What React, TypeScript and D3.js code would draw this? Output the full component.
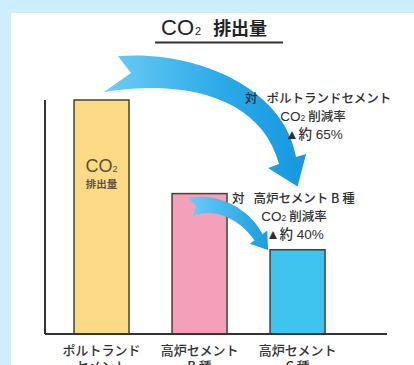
import React from "react";
import * as d3 from "d3";

const categories = ["ポルトランドセメント", "高炉セメントB種", "高炉セメントC種"];
const labelLine1 = ["ポルトランド", "高炉セメント", "高炉セメント"];
const labelLine2 = ["セメント", "B 種", "C 種"];
const values = [100, 60, 36];
const barColors = ["#fddb86", "#f5a0ba", "#3fc3ef"];
const note1Head = ["対", "ポルトランドセメント"];
const note2Head = ["対", "高炉セメント B 種"];
const noteRate = "削減率";
const reductions = ["▲約 65%", "▲約 40%"];

const W = 414;
const H = 365;
const FONT = "'Noto Sans CJK JP', 'Noto Sans', sans-serif";
const LATIN = "'Liberation Sans', 'Noto Sans CJK JP', sans-serif";

type P = [number, number];
const add = (a: P, dx: number, dy: number): P => [a[0] + dx, a[1] + dy];

function arrowPath(
  o0: P, o1: P, o2: P, o3: P,
  rb: P, tip: P, lb: P,
  i3: P, i2: P, i1: P, i0: P, notch: P
) {
  const p = d3.path();
  p.moveTo(o0[0], o0[1]);
  p.bezierCurveTo(o1[0], o1[1], o2[0], o2[1], o3[0], o3[1]);
  p.lineTo(rb[0], rb[1]);
  p.lineTo(tip[0], tip[1]);
  p.lineTo(lb[0], lb[1]);
  p.lineTo(i3[0], i3[1]);
  p.bezierCurveTo(i2[0], i2[1], i1[0], i1[1], i0[0], i0[1]);
  p.lineTo(notch[0], notch[1]);
  p.closePath();
  return p.toString();
}

function Note({ xs, x1, y0, head, pct }: { xs: number; x1: number; y0: number; head: string[]; pct: string }) {
  const lh = 17.5;
  return (
    <g fill="#2f2f2f" fontSize={12.5} fontWeight={500}>
      <text x={xs} y={y0} fontFamily={FONT}>
        {head[0]}
        <tspan dx={9}>{head[1]}</tspan>
      </text>
      <text x={x1} y={y0 + lh} textAnchor="middle">
        <tspan fontFamily={LATIN} fontSize={13.5} fill="#2a2a2a">CO</tspan>
        <tspan fontFamily={LATIN} fontSize={8.5}>2</tspan>
        <tspan fontFamily={FONT} dx={3}>{noteRate}</tspan>
      </text>
      <text x={x1 + 1} y={y0 + lh * 2 + 1} textAnchor="middle" fontFamily={LATIN} fontSize={13.5}>
        {pct}
      </text>
    </g>
  );
}

export default function App() {
  const axisLeft = 45;
  const axisRight = 387;
  const baseY = 334;
  const y = d3.scaleLinear().domain([0, 100]).range([baseY, 100]);
  const x = d3
    .scaleBand<string>()
    .domain(categories)
    .range([axisLeft, axisRight])
    .paddingInner(0.439)
    .paddingOuter(0.464)
    .align(0.319);
  const bw = x.bandwidth();

  const A: P = [x(categories[0])! + bw, y(values[0])];
  const T: P = [x(categories[2])! + bw / 2, y(values[1]) - 7];
  const big = arrowPath(
    add(A, -11, -44), add(A, 71, -50), add(T, -12.5, -96.6), add(T, -1.5, -29.6),
    add(T, 8.5, -32.6), T, add(T, -29.5, -18.6),
    add(T, -18.5, -22.6), add(T, -35.5, -86.6), add(A, 61, -22), add(A, -25, -8), add(A, 2, -27)
  );
  const B1: P = [x(categories[1])! + bw / 2, y(values[1])];
  const T2: P = [x(categories[2])!, y(values[2])];
  const small = arrowPath(
    add(B1, -11.5, 4.4), add(B1, 20.5, -1.6), add(T2, -20, -39.8), add(T2, -7.6, -15.6),
    add(T2, -2.8, -19.2), add(T2, -2, 0.2), add(T2, -20.4, -6),
    add(T2, -15.6, -9.6), add(T2, -30, -29.8), add(B1, 15.5, 13.4), add(B1, -6.5, 22.4), add(B1, -3.5, 12.4)
  );

  const textColor = "#333";

  return (
    <svg
      width={W}
      height={H}
      style={{ position: "absolute", left: 0, top: 0 }}
      fontFamily={FONT}
    >
      <defs>
        <linearGradient id="gBig" x1="0" y1="0" x2="1" y2="0">
          <stop offset="0" stopColor="#6ccdf4" />
          <stop offset="0.6" stopColor="#2aa9e8" />
          <stop offset="1" stopColor="#1598e0" />
        </linearGradient>
        <linearGradient id="gSmall" x1="0" y1="0" x2="1" y2="0">
          <stop offset="0" stopColor="#6ccdf4" />
          <stop offset="1" stopColor="#1a9de2" />
        </linearGradient>
      </defs>
      <rect x={0} y={0} width={W} height={H} fill="#cdeefc" />
      <rect x={11} y={13} width={W - 11} height={H - 13} fill="#ffffff" />

      {/* title */}
      <text x={161} y={35} fill="#222">
        <tspan fontFamily={LATIN} fontSize={22}>CO</tspan>
        <tspan fontFamily={LATIN} fontSize={11} dx={1}>2</tspan>
        <tspan fontFamily={FONT} fontSize={18} dx={12} fontWeight={700}>排出量</tspan>
      </text>
      <line x1={155} x2={283} y1={42.5} y2={42.5} stroke="#333" strokeWidth={2} />

      {/* bars */}
      {categories.map((c, i) => (
        <rect
          key={c}
          x={x(c)!}
          y={y(values[i])}
          width={bw}
          height={baseY - y(values[i])}
          fill={barColors[i]}
          stroke="#4a3f38"
          strokeWidth={1.5}
        />
      ))}

      {/* axes */}
      <line x1={axisLeft} x2={axisLeft} y1={y(100)} y2={baseY} stroke="#333" strokeWidth={2} />
      <line x1={axisLeft} x2={axisRight} y1={baseY} y2={baseY} stroke="#333" strokeWidth={2} />

      {/* inside label */}
      <text x={x(categories[0])! + bw / 2} y={172} textAnchor="middle" fill="#5a4f3a">
        <tspan fontFamily={LATIN} fontSize={18}>CO</tspan>
        <tspan fontFamily={LATIN} fontSize={9}>2</tspan>
      </text>
      <text
        x={x(categories[0])! + bw / 2}
        y={188}
        textAnchor="middle"
        fill="#5f5440"
        fontSize={10.5}
        fontWeight={700}
      >
        排出量
      </text>

      {/* arrows */}
      <path d={big} fill="url(#gBig)" />
      <path d={small} fill="url(#gSmall)" />

      {/* annotations */}
      <Note xs={245} x1={313} y0={103} head={note1Head} pct={reductions[0]} />
      <Note xs={232} x1={294} y0={203} head={note2Head} pct={reductions[1]} />

      {/* category labels */}
      {categories.map((c, i) => (
        <g key={"l" + c} fill={textColor} fontSize={13} fontWeight={500}>
          <text x={x(c)! + bw / 2} y={355} textAnchor="middle">
            {labelLine1[i]}
          </text>
          <text x={x(c)! + bw / 2} y={371} textAnchor="middle">
            {labelLine2[i]}
          </text>
        </g>
      ))}
    </svg>
  );
}
